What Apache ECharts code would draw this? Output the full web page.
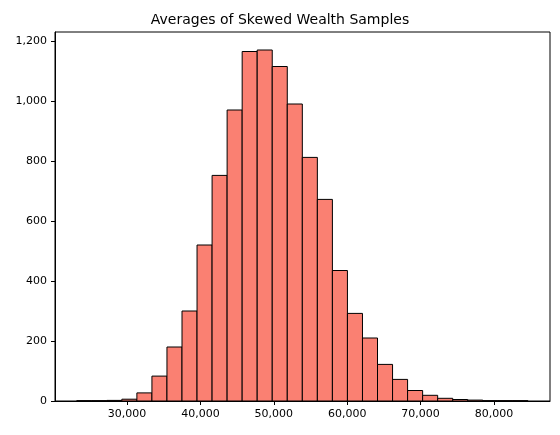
<!DOCTYPE html>
<html><head><meta charset="utf-8">
<script src="https://cdn.jsdelivr.net/npm/echarts@6/dist/echarts.min.js"></script>
<style>html,body{margin:0;background:#fff}#c{width:560px;height:435px}</style>
</head><body><div id="c"></div>
<script>
var binStart = 23150;
var binWidth = 2049;
var counts = [1,1,2,6,27,83,180,300,520,752,970,1165,1170,1115,990,812,672,435,292,210,122,72,35,19,9,5,3,1,1,1];
var xTicks = [30000,40000,50000,60000,70000,80000];
var yTicks = [0,200,400,600,800,1000,1200];

var bins = counts.map(function (c, i) {
  return [binStart + i * binWidth, binStart + (i + 1) * binWidth, c];
});

var chart = echarts.init(document.getElementById('c'));
chart.setOption({
  animation: false,
  title: {
    text: 'Averages of Skewed Wealth Samples', left: 'center', top: 8,
    textStyle: { fontFamily: 'DejaVu Sans', fontSize: 14, fontWeight: 'normal', color: '#000' }
  },
  grid: { left: 55, right: 10, top: 32, bottom: 34 },
  xAxis: {
    type: 'value', min: 20190, max: 87630,
    axisLine: { onZero: false, lineStyle: { color: '#000' } },
    axisTick: { customValues: xTicks, length: 4, lineStyle: { color: '#000' } },
    axisLabel: { customValues: xTicks, color: '#000', fontFamily: 'DejaVu Sans', fontSize: 11 },
    splitLine: { show: false }
  },
  yAxis: {
    type: 'value', min: 0, max: 1230,
    axisLine: { show: true, lineStyle: { color: '#000' } },
    axisTick: { show: true, customValues: yTicks, length: 4, lineStyle: { color: '#000' } },
    axisLabel: { customValues: yTicks, color: '#000', fontFamily: 'DejaVu Sans', fontSize: 11 },
    splitLine: { show: false }
  },
  series: [{
    type: 'custom',
    data: bins,
    renderItem: function (params, api) {
      var p0 = api.coord([api.value(0), api.value(2)]);
      var p1 = api.coord([api.value(1), 0]);
      return {
        type: 'rect',
        shape: { x: p0[0], y: p0[1], width: p1[0] - p0[0], height: p1[1] - p0[1] },
        style: { fill: '#FA8072', stroke: '#000', lineWidth: 1 }
      };
    }
  }, {
    type: 'line', data: [], silent: true
  }]
});
// frame lines top/right
chart.setOption({
  graphic: [{
    type: 'rect', shape: { x: 55, y: 32, width: 495, height: 369 },
    style: { fill: 'none', stroke: '#000', lineWidth: 1 }, silent: true
  }]
});
</script></body></html>
